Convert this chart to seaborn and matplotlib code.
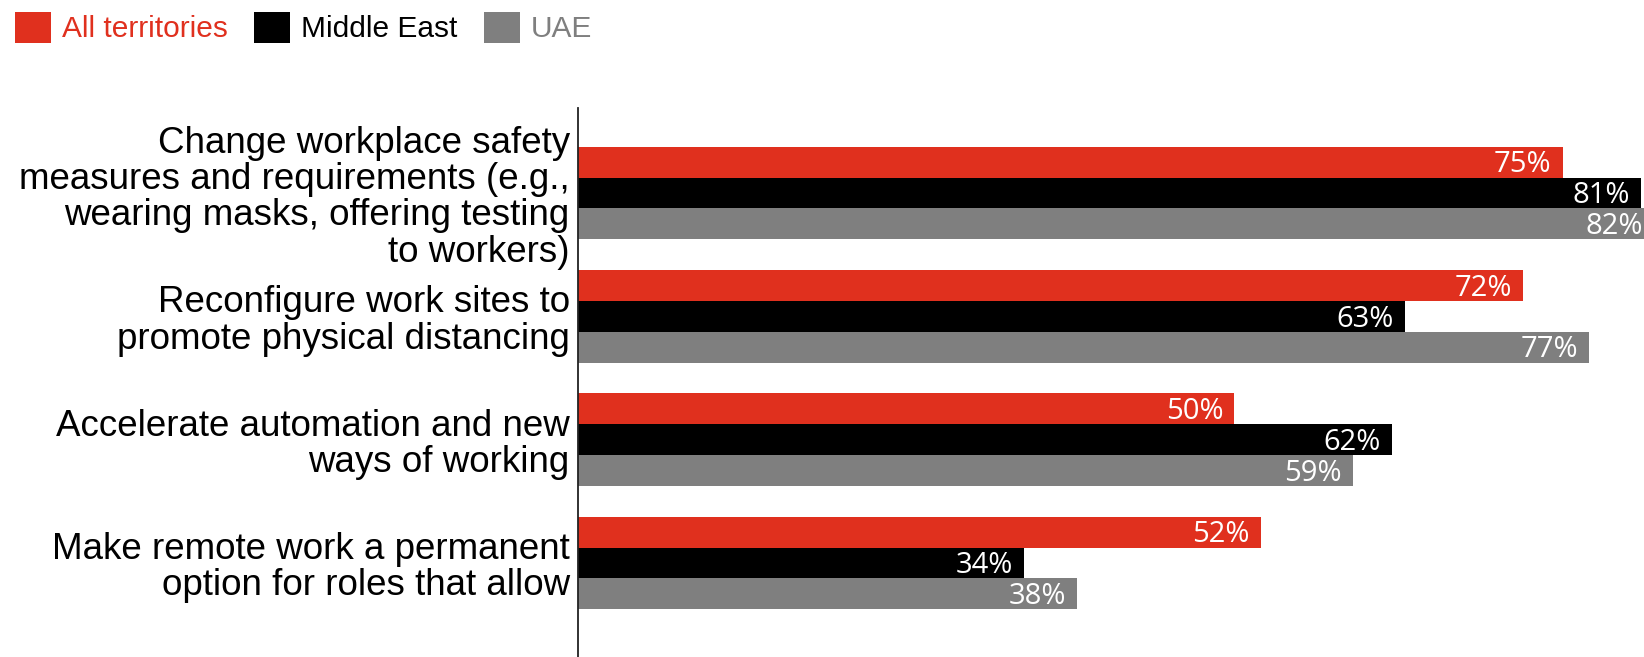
import matplotlib
matplotlib.use("Agg")
import matplotlib.pyplot as plt
from matplotlib.patches import Patch
import seaborn as sns
import pandas as pd

# Survey responses: share of respondents planning each workplace change
actions = [
    "Change workplace safety\nmeasures and requirements (e.g.,\nwearing masks, offering testing\nto workers)",
    "Reconfigure work sites to\npromote physical distancing",
    "Accelerate automation and new\nways of working",
    "Make remote work a permanent\noption for roles that allow",
]
regions = ["All territories", "Middle East", "UAE"]
all_territories = [75, 72, 50, 52]
middle_east = [81, 63, 62, 34]
uae = [82, 77, 59, 38]

colors = ["#E0301E", "#000000", "#7F7F7F"]

df = pd.DataFrame({
    "action": actions * 3,
    "region": [r for r in regions for _ in actions],
    "value": all_territories + middle_east + uae,
})

sns.set_theme(style="white")
plt.rcParams["font.family"] = ["Liberation Sans", "DejaVu Sans"]

fig = plt.figure(figsize=(16.44, 6.57), dpi=100)
ax = fig.add_axes([578 / 1644, 0.0, 1 - 578 / 1644, 1 - 108 / 657])

sns.barplot(
    data=df, y="action", x="value", hue="region",
    hue_order=regions, order=actions, palette=colors,
    orient="h", width=0.75, saturation=1, legend=False, ax=ax,
    linewidth=0, edgecolor="none",
)

ax.set_xlim(0, 81.2)
ax.set_ylim(3.762, -0.689)
ax.set_xlabel("")
ax.set_ylabel("")
ax.set_xticks([])
ax.tick_params(axis="y", length=0, pad=6, labelsize=26.5)
for lbl in ax.get_yticklabels():
    lbl.set_linespacing(1.05)
    lbl.set_color("#000000")

for side in ["top", "right", "bottom"]:
    ax.spines[side].set_visible(False)
ax.spines["left"].set_color("#222222")
ax.spines["left"].set_linewidth(1.3)

# Percentage labels inside the end of each bar
for container in ax.containers:
    for bar, val in zip(container, container.datavalues):
        y = bar.get_y() + bar.get_height() / 2
        ax.annotate(
            f"{val:.0f}%", xy=(val, y), xytext=(-8, -2),
            textcoords="offset points", ha="right", va="center",
            color="white", fontsize=21, family=["Open Sans", "DejaVu Sans"],
            annotation_clip=False,
        )

handles = [Patch(facecolor=c, edgecolor="none") for c in colors]
fig.legend(
    handles, regions, loc="upper left", bbox_to_anchor=(15 / 1644, 1 - 12 / 657),
    ncol=3, frameon=False, fontsize=21.5, borderpad=0, borderaxespad=0,
    handlelength=1.2, handleheight=1.2, handletextpad=0.36, columnspacing=0.9,
    labelcolor=colors,
)

fig.savefig("out.png", dpi=100)
